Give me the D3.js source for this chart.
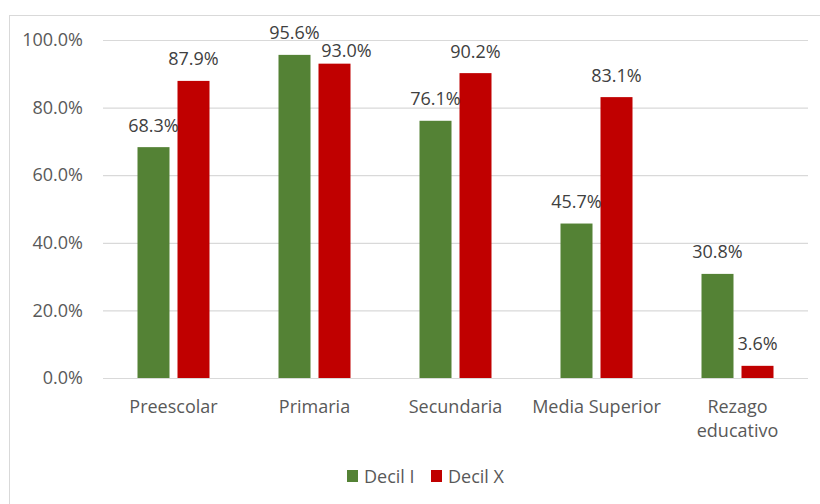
<!DOCTYPE html>
<html>
<head>
<meta charset="utf-8">
<script src="https://cdn.jsdelivr.net/npm/d3@7/dist/d3.min.js"></script>
<style>
  html, body { margin: 0; padding: 0; background: #fff; }
  svg { display: block; font-family: "Open Sans", sans-serif; }
</style>
</head>
<body>
<svg id="chart" width="820" height="504"></svg>
<script>
// Education coverage by income decile
const categories = ["Preescolar", "Primaria", "Secundaria", "Media Superior", "Rezago educativo"];
const seriesNames = ["Decil I", "Decil X"];
const decilI = [0.683, 0.956, 0.761, 0.457, 0.308];
const decilX = [0.879, 0.930, 0.902, 0.831, 0.036];
const yTicks = [0, 0.2, 0.4, 0.6, 0.8, 1.0];
const colors = ["#548235", "#C00000"];

const seriesValues = [decilI, decilX];
const rows = categories.map((c, i) => ({
  category: c,
  values: seriesNames.map((s, k) => ({ category: c, series: s, value: seriesValues[k][i] }))
}));

const svg = d3.select("#chart");

// Outer chart frame
svg.append("rect")
  .attr("x", 9.5).attr("y", 15.5)
  .attr("width", 830).attr("height", 520)
  .attr("fill", "none").attr("stroke", "#d9d9d9").attr("stroke-width", 1);

const plot = { left: 103, right: 808, top: 40, bottom: 378 };

const x = d3.scaleBand().domain(categories).range([plot.left, plot.right]).padding(0);
const xs = d3.scaleBand().domain(seriesNames).range([0, x.bandwidth()])
  .paddingInner(0.2).paddingOuter(0.8625);
const y = d3.scaleLinear().domain([0, 1]).range([plot.bottom, plot.top]);

// Gridlines and y tick labels
const yAxis = svg.append("g")
  .attr("transform", `translate(${plot.left},0)`)
  .call(d3.axisLeft(y).tickValues(yTicks).tickFormat(d3.format(".1%"))
    .tickSize(-(plot.right - plot.left)).tickPadding(20));
yAxis.select(".domain").remove();
yAxis.selectAll(".tick line").attr("stroke", "#d9d9d9").attr("stroke-width", 1.2);
yAxis.selectAll(".tick text")
  .attr("fill", "#595959").attr("font-size", 18)
  .attr("font-family", "'Open Sans', sans-serif");

// Bars
const groups = svg.append("g").selectAll("g")
  .data(rows).join("g")
  .attr("transform", d => `translate(${x(d.category)},0)`);

groups.selectAll("rect")
  .data(d => d.values).join("rect")
  .attr("x", d => xs(d.series))
  .attr("width", xs.bandwidth())
  .attr("y", d => y(d.value))
  .attr("height", d => y(0) - y(d.value))
  .attr("fill", (d, i) => colors[i]);

// Value labels; the Primaria / Decil X label is nudged aside so it clears its neighbour
const labelNudge = d => (d.category === "Primaria" && d.series === "Decil X")
  ? { dx: 12, dy: 8.5 } : { dx: 0, dy: 0 };

groups.selectAll("text")
  .data(d => d.values).join("text")
  .attr("x", d => xs(d.series) + xs.bandwidth() / 2 + labelNudge(d).dx)
  .attr("y", d => y(d.value) - 15.5 + labelNudge(d).dy)
  .attr("text-anchor", "middle")
  .attr("font-size", 18)
  .attr("fill", "#404040")
  .text(d => d3.format(".1%")(d.value));

// Category labels (wrapped on "Rezago educativo")
const xAxis = svg.append("g")
  .attr("transform", `translate(0,${plot.bottom})`)
  .call(d3.axisBottom(x).tickSize(0).tickFormat(""));
xAxis.select(".domain").remove();
xAxis.selectAll(".tick").each(function(d) {
  const lines = d === "Rezago educativo" ? ["Rezago", "educativo"] : [d];
  const t = d3.select(this).append("text")
    .attr("text-anchor", "middle")
    .attr("fill", "#595959")
    .attr("font-size", 18)
    .attr("font-family", "'Open Sans', sans-serif");
  lines.forEach((ln, i) => {
    t.append("tspan").attr("x", 0).attr("y", 35 + i * 24).text(ln);
  });
});

// Legend
const legendItems = [
  { name: seriesNames[0], color: colors[0], x: 347 },
  { name: seriesNames[1], color: colors[1], x: 431 }
];
const legend = svg.append("g").selectAll("g")
  .data(legendItems).join("g")
  .attr("transform", d => `translate(${d.x},470)`);
legend.append("rect")
  .attr("width", 11).attr("height", 12)
  .attr("fill", d => d.color);
legend.append("text")
  .attr("x", 17).attr("y", 13)
  .attr("font-size", 18).attr("fill", "#595959")
  .text(d => d.name);
</script>
</body>
</html>
